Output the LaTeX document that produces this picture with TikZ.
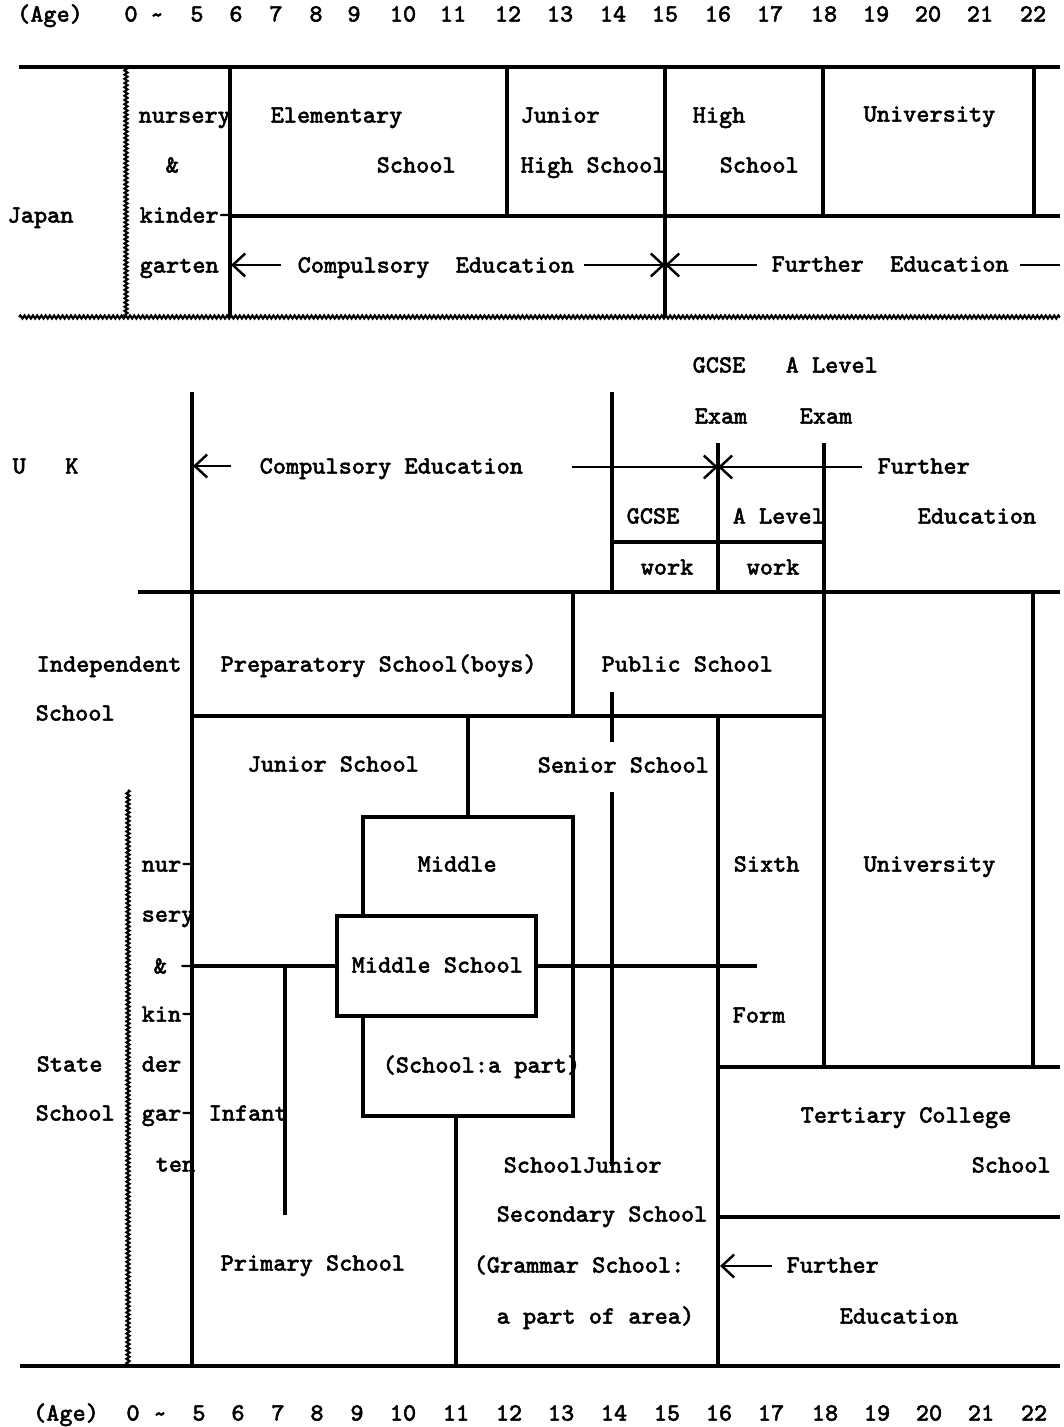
\documentclass[tikz,border=0pt]{standalone}
\usepackage{fontspec}
\setmonofont[FakeBold=2]{Latin Modern Mono}
\usetikzlibrary{arrows.meta,decorations.pathmorphing}

\tikzset{
  txt/.style={font=\ttfamily\bfseries\fontsize{7.05}{9}\selectfont, inner sep=0pt,
    text height=4.3pt, text depth=0pt, anchor=west},
  agenum/.style={txt, anchor=center},
  thickrule/.style={line width=0.95pt},
  wavy/.style={line width=0.6pt, decorate,
    decoration={snake, segment length=1.2pt, amplitude=0.45pt}},
  arr/.style={line width=0.7pt, -{Straight Barb[length=3.5pt,width=6.5pt]}},
}

\begin{document}
\begin{tikzpicture}[x=0.01cm,y=-0.01cm]
    \useasboundingbox (0,0) rectangle (1064,1427);
    % ages, top
    \node[agenum] (tage) at (50,14) {(Age)};
    \node[agenum] (t0) at (131,14) {0};
    \node[agenum] (ttilde) at (157,15) {\textasciitilde};
    \node[agenum] (t5) at (197,14) {5};
    \node[agenum] (t6) at (236,14) {6};
    \node[agenum] (t7) at (276,14) {7};
    \node[agenum] (t8) at (316,14) {8};
    \node[agenum] (t9) at (354,14) {9};
    \node[agenum] (t10) at (403,14) {10};
    \node[agenum] (t11) at (453,14) {11};
    \node[agenum] (t12) at (508,14) {12};
    \node[agenum] (t13) at (560,14) {13};
    \node[agenum] (t14) at (613,14) {14};
    \node[agenum] (t15) at (665,14) {15};
    \node[agenum] (t16) at (718,14) {16};
    \node[agenum] (t17) at (770,14) {17};
    \node[agenum] (t18) at (824,14) {18};
    \node[agenum] (t19) at (876,14) {19};
    \node[agenum] (t20) at (928,14) {20};
    \node[agenum] (t21) at (980,14) {21};
    \node[agenum] (t22) at (1033,14) {22};

    % Japan
    \draw[thickrule] (19,67) -- (1060,67);
    \draw[wavy] (19,317) -- (1060,317);
    \draw[wavy] (126,67) -- (126,317);
    \draw[thickrule] (230,67) -- (230,317);
    \draw[thickrule] (230,216) -- (1060,216);
    \draw[thickrule] (507,67) -- (507,216);
    \draw[thickrule] (665,67) -- (665,317);
    \draw[thickrule] (823,67) -- (823,216);
    \draw[thickrule] (1034,67) -- (1034,216);
    \draw[arr] (281,265) -- (231,265);
    \draw[arr] (584,265) -- (665,265);
    \draw[arr] (757,265) -- (665,265);
    \draw[line width=0.7pt] (1020,265) -- (1060,265);
    \node[txt] (jp) at (7,215) {Japan};
    \node[txt] (jpnur) at (138,115) {nursery};
    \node[txt] (jpand) at (165,165) {\&};
    \node[txt] (jpkin) at (139,215) {kinder-};
    \node[txt] (jpgar) at (139,265) {garten};
    \node[txt] (jpelem) at (270,115) {Elementary};
    \node[txt] (jpelsch) at (376,165) {School};
    \node[txt] (jpjun) at (520,115) {Junior};
    \node[txt] (jpjhs) at (520,165) {High School};
    \node[txt] (jphigh) at (692,115) {High};
    \node[txt] (jphsch) at (719,165) {School};
    \node[txt] (jpuni) at (863,114) {University};
    \node[txt] (jpcomp) at (297,265) {Compulsory~~Education};
    \node[txt] (jpfur) at (771,264) {Further~~Education};

    % U K, exams
    \node[txt] (ukgcse) at (692,365) {GCSE};
    \node[txt] (ukalev) at (785,365) {A Level};
    \node[txt] (ukexa) at (694,416) {Exam};
    \node[txt] (ukexb) at (799,416) {Exam};
    \node[txt] (uk) at (12,466) {U~~~K};
    \draw[thickrule] (192,392) -- (192,1366);
    \draw[thickrule] (612,392) -- (612,592);
    \draw[thickrule] (718,443) -- (718,592);
    \draw[thickrule] (824,443) -- (824,1067);
    \draw[arr] (231,466) -- (193,466);
    \draw[arr] (572,467) -- (718,467);
    \draw[arr] (862,467) -- (718,467);
    \draw[thickrule] (612,542) -- (824,542);
    \node[txt] (ukcomp) at (259,466) {Compulsory Education};
    \node[txt] (ukfur) at (877,466) {Further};
    \node[txt] (ukfured) at (917,516) {Education};
    \node[txt] (ukgwork) at (626,516) {GCSE};
    \node[txt] (ukawork) at (732,516) {A Level};
    \node[txt] (ukwa) at (640,567) {work};
    \node[txt] (ukwb) at (746,567) {work};

    % schools
    \draw[thickrule] (138,592) -- (1060,592);
    \draw[thickrule] (573,592) -- (573,716);
    \draw[thickrule] (1033,592) -- (1033,1067);
    \draw[thickrule] (192,716) -- (824,716);
    \draw[thickrule] (612,692) -- (612,742);
    \draw[thickrule] (612,792) -- (612,1166);
    \draw[thickrule] (468,716) -- (468,817);
    \draw[thickrule] (718,716) -- (718,1366);
    \draw[thickrule] (718,1067) -- (1060,1067);
    \draw[thickrule] (718,1217) -- (1060,1217);
    \draw[arr] (772,1266) -- (720,1266);
    \draw[thickrule] (363,817) rectangle (573,1116);
    \draw[thickrule] (192,966) -- (337,966);
    \draw[thickrule] (536,966) -- (757,966);
    \draw[thickrule] (285,966) -- (285,1215);
    \draw[thickrule, fill=white] (337,916) rectangle (536,1016);
    \draw[thickrule] (456,1116) -- (456,1366);
    \draw[wavy] (128,790) -- (128,1366);
    \draw[thickrule] (20,1366) -- (1060,1366);

    \node[txt] (indep) at (36,664) {Independent};
    \node[txt] (indsch) at (35,713) {School};
    \node[txt] (prep) at (220,664) {Preparatory School(boys)};
    \node[txt] (pub) at (601,664) {Public School};
    \node[txt] (junsch) at (247,764) {Junior School};
    \node[txt] (sensch) at (537,765) {Senior School};
    \node[txt] (mid) at (417,864) {Middle};
    \node[txt] (sixth) at (733,864) {Sixth};
    \node[txt] (ukuni) at (863,864) {University};
    \node[txt] (uknur) at (141,864) {nur-};
    \node[txt] (uksery) at (141,914) {sery};
    \node[txt] (ukand) at (153,966) {\&~-};
    \node[txt] (midsch) at (351,965) {Middle School};
    \node[txt] (ukkin) at (141,1014) {kin-};
    \node[txt] (form) at (732,1015) {Form};
    \node[txt] (state) at (36,1064) {State};
    \node[txt] (ukder) at (141,1064) {der};
    \node[txt] (midpart) at (382,1065) {(School:a part)};
    \node[txt] (statesch) at (35,1113) {School};
    \node[txt] (ukgar) at (141,1113) {gar-};
    \node[txt] (infant) at (208,1113) {Infant};
    \node[txt] (tert) at (800,1115) {Tertiary College};
    \node[txt] (ukten) at (155,1164) {ten};
    \node[txt] (schjun) at (503,1165) {SchoolJunior};
    \node[txt] (tertsch) at (971,1165) {School};
    \node[txt] (second) at (496,1214) {Secondary School};
    \node[txt] (primary) at (220,1263) {Primary School};
    \node[txt] (grammar) at (473,1265) {(Grammar School:};
    \node[txt] (fefur) at (786,1265) {Further};
    \node[txt] (area) at (496,1316) {a part of area)};
    \node[txt] (feedu) at (839,1316) {Education};

    % ages, bottom
    \node[agenum] (bage) at (66,1413) {(Age)};
    \node[agenum] (b0) at (133,1413) {0};
    \node[agenum] (btilde) at (160,1414) {\textasciitilde};
    \node[agenum] (b5) at (199,1413) {5};
    \node[agenum] (b6) at (238,1413) {6};
    \node[agenum] (b7) at (278,1413) {7};
    \node[agenum] (b8) at (317,1413) {8};
    \node[agenum] (b9) at (357,1413) {9};
    \node[agenum] (b10) at (403,1413) {10};
    \node[agenum] (b11) at (456,1413) {11};
    \node[agenum] (b12) at (509,1413) {12};
    \node[agenum] (b13) at (561,1413) {13};
    \node[agenum] (b14) at (614,1413) {14};
    \node[agenum] (b15) at (667,1413) {15};
    \node[agenum] (b16) at (719,1413) {16};
    \node[agenum] (b17) at (771,1413) {17};
    \node[agenum] (b18) at (825,1413) {18};
    \node[agenum] (b19) at (877,1413) {19};
    \node[agenum] (b20) at (929,1413) {20};
    \node[agenum] (b21) at (981,1413) {21};
    \node[agenum] (b22) at (1034,1413) {22};
\end{tikzpicture}
\end{document}
